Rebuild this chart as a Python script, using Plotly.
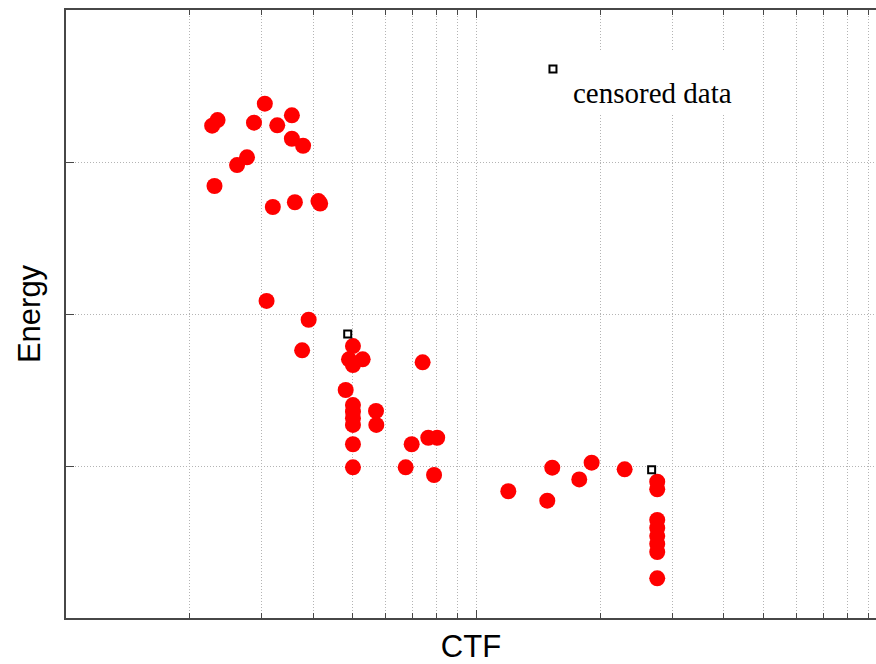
import plotly.graph_objects as go

# Red observed points (CTF, Energy)
ctf_obs = [2.27, 2.34, 3.05, 2.87, 3.27, 3.55, 3.55, 3.78, 2.61, 2.76, 2.30, 3.19, 3.61, 4.12, 4.16,
           3.08, 3.90, 3.76, 5.0, 4.89, 5.28, 5.0, 4.80, 5.0, 5.0, 5.0, 5.0, 5.69, 5.70, 5.0, 5.0,
           7.39, 6.95, 7.63, 8.02, 6.72, 7.88,
           11.95, 15.29, 14.87, 17.79, 19.07, 22.95,
           27.55, 27.55, 27.55, 27.55, 27.55, 27.55, 27.55, 27.55]
energy_obs = [3.239, 3.276, 3.384, 3.259, 3.241, 3.307, 3.153, 3.107, 2.980, 3.031, 2.842, 2.704, 2.735, 2.743, 2.727,
              2.086, 1.962, 1.761, 1.789, 1.702, 1.702, 1.664, 1.500, 1.401, 1.357, 1.314, 1.270, 1.362, 1.270, 1.143, 0.991,
              1.682, 1.143, 1.186, 1.186, 0.991, 0.941,
              0.834, 0.989, 0.772, 0.912, 1.022, 0.978,
              0.897, 0.847, 0.645, 0.592, 0.539, 0.487, 0.434, 0.261]

# Censored data points
ctf_cens = [4.855, 26.70]
energy_cens = [1.868, 0.976]

y_ticks = [1, 2, 3]

grid_col = "#b4b4b4"
axis_col = "#474747"
grid_dash = "1px,2px"

fig = go.Figure()
fig.add_trace(go.Scatter(
    x=ctf_obs, y=energy_obs, mode="markers", showlegend=False,
    marker=dict(color="#ff0000", size=16, line=dict(width=0)),
))
fig.add_trace(go.Scatter(
    x=ctf_cens, y=energy_cens, mode="markers",
    name="<br><span style='font-size:29px'>censored data</span>",
    marker=dict(symbol="square-open", color="black", size=7, line=dict(width=2, color="black")),
))

fig.update_layout(
    width=876, height=664,
    margin=dict(l=66, r=0, t=10, b=46),
    paper_bgcolor="white", plot_bgcolor="white",
    showlegend=True,
    legend=dict(
        x=0.5765, y=0.935, xanchor="left", yanchor="top",
        bgcolor="white", borderwidth=0, valign="top",
        font=dict(family="Liberation Serif, Times New Roman, serif", size=20, color="black"),
    ),
)
fig.update_xaxes(
    type="log", range=[0, 1.973],
    showline=True, linecolor=axis_col, linewidth=2, mirror="ticks",
    ticks="inside", ticklen=8, tickcolor=axis_col, dtick=1,
    showticklabels=False,
    showgrid=True, gridcolor=grid_col, griddash=grid_dash, gridwidth=1,
    zeroline=False, automargin=False,
    minor=dict(dtick="D1", ticks="inside", ticklen=5, tickcolor=axis_col,
               showgrid=True, gridcolor=grid_col, griddash=grid_dash, gridwidth=1),
    title=dict(text="CTF", font=dict(family="Liberation Sans, Arial, sans-serif", size=31, color="black"),
               standoff=20),
)
fig.update_yaxes(
    range=[0, 4], tickvals=y_ticks,
    showline=True, linecolor=axis_col, linewidth=2, mirror=False,
    ticks="inside", ticklen=8, tickcolor=axis_col,
    showticklabels=False,
    showgrid=True, gridcolor=grid_col, griddash=grid_dash, gridwidth=1,
    zeroline=False, automargin=False,
    title=dict(text="Energy", font=dict(family="Liberation Sans, Arial, sans-serif", size=31, color="black"),
               standoff=14),
)

fig.write_html(
    "out.html",
    config={"displayModeBar": False},
    post_script="document.body.style.margin='0';document.body.style.overflow='hidden';",
)
